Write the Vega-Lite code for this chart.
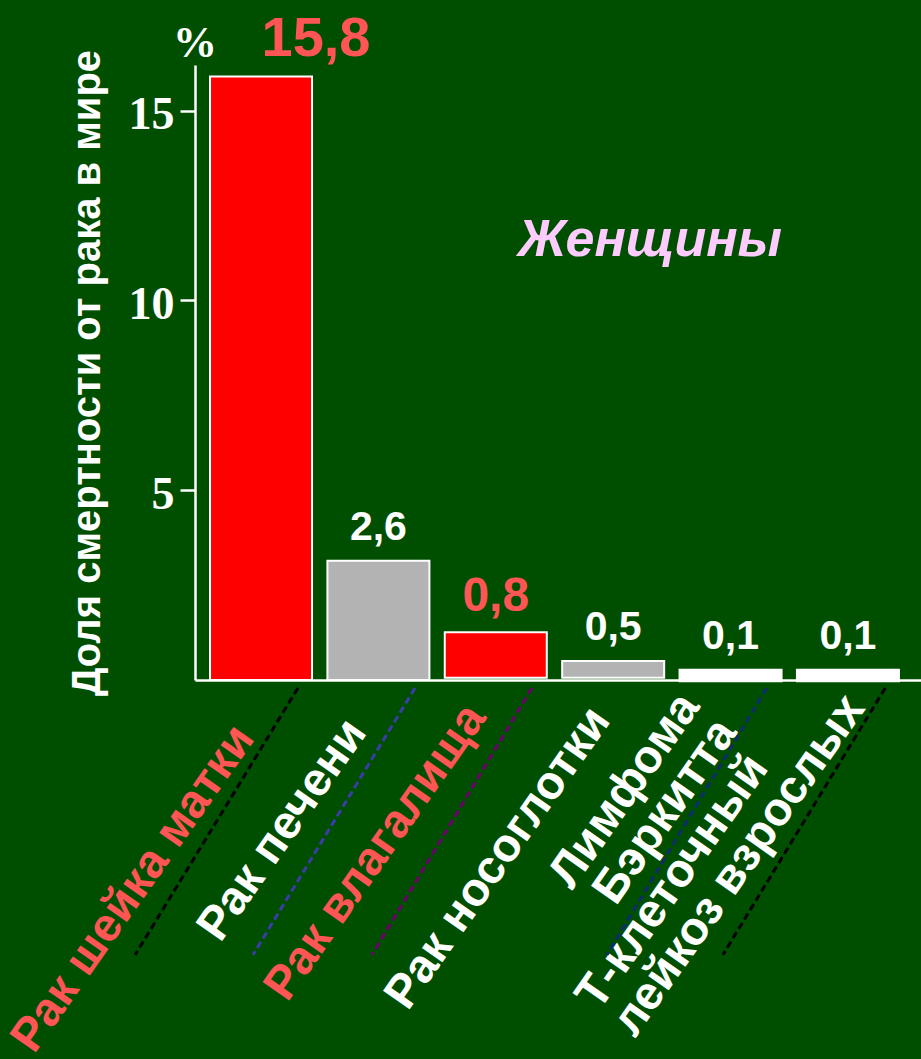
{
  "$schema": "https://vega.github.io/schema/vega-lite/v6.json",
  "width": 726,
  "height": 615,
  "autosize": "none",
  "padding": {"left": 195, "top": 65, "right": 0, "bottom": 379},
  "background": "#004f00",
  "config": {"view": {"stroke": null}, "font": "Liberation Sans"},
  "resolve": {"scale": {"x": "independent", "y": "independent", "color": "independent"}},
  "layer": [
    {
      "data": {"values": [
        {"категория": "Рак шейка матки", "метка": "15,8", "группа": "A", "lo": 0, "hi": 15.9},
        {"категория": "Рак печени", "метка": "2,6", "группа": "B", "lo": 0, "hi": 3.14},
        {"категория": "Рак влагалища", "метка": "0,8", "группа": "A", "lo": 0.06, "hi": 1.26},
        {"категория": "Рак носоглотки", "метка": "0,5", "группа": "B", "lo": 0.06, "hi": 0.5},
        {"категория": "Лимфома Бэркитта", "метка": "0,1", "группа": "C", "lo": -0.03, "hi": 0.27},
        {"категория": "Т-клеточный лейкоз взрослых", "метка": "0,1", "группа": "C", "lo": -0.03, "hi": 0.27}
      ]},
      "encoding": {
        "x": {
          "field": "категория", "type": "nominal", "sort": null,
          "scale": {"paddingInner": 0.131, "paddingOuter": 0.158, "align": 0.405},
          "axis": {
            "title": null, "domainColor": "white", "domainWidth": 2.5,
            "ticks": false, "tickSize": 0,
            "labelAngle": -55, "labelAlign": "right", "labelBaseline": "middle",
            "labelFont": "Liberation Sans", "labelFontSize": 47, "labelFontWeight": "bold",
            "labelLineHeight": 45, "labelLimit": 1000,
            "labelOverlap": false, "labelBound": false, "labelFlush": false,
            "labelOffset": {"condition": [
              {"test": "datum.value == 'Рак шейка матки'", "value": -17},
              {"test": "datum.value == 'Рак печени'", "value": -22},
              {"test": "datum.value == 'Рак влагалища'", "value": -20},
              {"test": "datum.value == 'Рак носоглотки'", "value": -13},
              {"test": "datum.value == 'Лимфома Бэркитта'", "value": -41}
            ], "value": -30},
            "labelPadding": {"condition": [
              {"test": "datum.value == 'Рак шейка матки'", "value": 50},
              {"test": "datum.value == 'Рак печени'", "value": 44},
              {"test": "datum.value == 'Рак влагалища'", "value": 29},
              {"test": "datum.value == 'Рак носоглотки'", "value": 32},
              {"test": "datum.value == 'Лимфома Бэркитта'", "value": 18}
            ], "value": -6},
            "labelColor": {"condition": {"test": "datum.value == 'Рак шейка матки' || datum.value == 'Рак влагалища'", "value": "#ff5555"}, "value": "white"},
            "labelExpr": "datum.value == 'Лимфома Бэркитта' ? ['Лимфома', 'Бэркитта'] : datum.value == 'Т-клеточный лейкоз взрослых' ? ['Т-клеточный\u00a0\u00a0\u00a0\u00a0\u00a0\u00a0\u00a0\u00a0\u200b', 'лейкоз взрослых'] : datum.value"
          }
        },
        "y": {
          "field": "hi", "type": "quantitative",
          "scale": {"domain": [0, 16.2], "nice": false, "zero": false},
          "axis": {
            "values": [5, 10, 15], "grid": false,
            "domainColor": "white", "domainWidth": 2.5,
            "tickColor": "white", "tickWidth": 2.5, "tickSize": 15,
            "labelFont": "Liberation Serif", "labelFontWeight": "bold", "labelFontSize": 46,
            "labelColor": "white", "labelPadding": 6, "labelOffset": 4,
            "title": "Доля смертности от рака в мире",
            "titleFont": "Liberation Sans", "titleFontSize": 40, "titleFontWeight": "bold",
            "titleColor": "white", "titlePadding": 21
          }
        }
      },
      "layer": [
        {
          "mark": {"type": "bar", "stroke": "white", "strokeWidth": 2},
          "encoding": {
            "y2": {"field": "lo"},
            "color": {"field": "группа", "type": "nominal", "scale": {"domain": ["A", "B", "C"], "range": ["#ff0000", "#b3b3b3", "#ffffff"]}, "legend": null}
          }
        },
        {
          "transform": [{"filter": "datum.hi > 10"}],
          "mark": {"type": "text", "fontSize": 56, "fontWeight": "bold", "dx": 55, "dy": -20, "baseline": "alphabetic", "align": "center", "color": "#ff5555"},
          "encoding": {"text": {"field": "метка"}}
        },
        {
          "transform": [{"filter": "datum.hi <= 10"}],
          "mark": {"type": "text", "fontWeight": "bold", "dy": -21, "baseline": "alphabetic", "align": "center"},
          "encoding": {
            "text": {"field": "метка"},
            "size": {"condition": {"test": "datum['группа'] == 'A'", "value": 48}, "value": 41},
            "color": {"condition": {"test": "datum['группа'] == 'A'", "value": "#ff5555"}, "value": "white"}
          }
        }
      ]
    },
    {
      "layer": [
        {
          "data": {"values": [
            {"линия": 1, "x0": 0.877, "x1": -0.51, "y0": -0.21, "y1": -7.24},
            {"линия": 2, "x0": 1.874, "x1": 0.494, "y0": -0.21, "y1": -7.24},
            {"линия": 3, "x0": 2.87, "x1": 1.508, "y0": -0.21, "y1": -7.24},
            {"линия": 4, "x0": 4.87, "x1": 3.51, "y0": -0.21, "y1": -7.24},
            {"линия": 5, "x0": 5.88, "x1": 4.497, "y0": -0.21, "y1": -7.24}
          ]},
          "mark": {"type": "rule", "strokeWidth": 3, "strokeDash": [7, 4]},
          "encoding": {
            "x": {"field": "x0", "type": "quantitative", "scale": {"domain": [0, 6.185], "nice": false, "zero": false}, "axis": null},
            "x2": {"field": "x1"},
            "y": {"field": "y0", "type": "quantitative", "scale": {"domain": [0, 16.2], "nice": false, "zero": false}, "axis": null},
            "y2": {"field": "y1"},
            "color": {"field": "линия", "type": "nominal", "scale": {"domain": [1, 2, 3, 4, 5], "range": ["#000000", "#3c3ca8", "#6b006b", "#0d2d6b", "#000000"]}, "legend": null}
          }
        },
        {
          "data": {"values": [{"текст": "Женщины", "x": 3.876, "y": 11.18}]},
          "mark": {"type": "text", "fontSize": 52, "fontWeight": "bold", "fontStyle": "italic", "color": "#ffccff", "baseline": "alphabetic", "align": "center"},
          "encoding": {
            "x": {"field": "x", "type": "quantitative"},
            "y": {"field": "y", "type": "quantitative"},
            "text": {"field": "текст"}
          }
        },
        {
          "data": {"values": [{"текст": "%", "x": 0, "y": 16.4}]},
          "mark": {"type": "text", "fontSize": 44, "fontWeight": "bold", "font": "Liberation Serif", "color": "white", "baseline": "alphabetic", "align": "center"},
          "encoding": {
            "x": {"field": "x", "type": "quantitative"},
            "y": {"field": "y", "type": "quantitative"},
            "text": {"field": "текст"}
          }
        }
      ]
    }
  ]
}
